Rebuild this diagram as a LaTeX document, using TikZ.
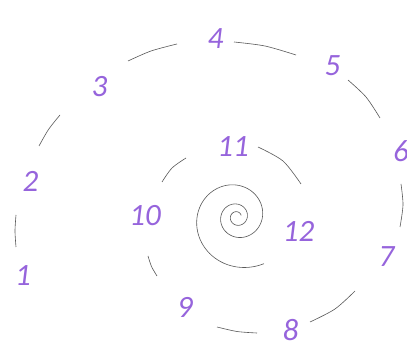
\documentclass[tikz,border=0pt]{standalone}
\usepackage{fontspec}
\setmainfont{Carlito}

\definecolor{numcol}{RGB}{150,100,220}

\tikzset{
  num/.style={text=numcol, font=\fontsize{31}{36}\selectfont\itshape, inner sep=0pt},
  arcline/.style={draw=black!65, line width=0.6pt}
}

\begin{document}
\begin{tikzpicture}[x=1pt,y=-1pt]

\useasboundingbox[fill=white] (0,0) rectangle (407,344);

% -----------------------
% Tour exterieur
% -----------------------
\draw[arcline] plot[smooth] coordinates {(16,215) (15,231) (16,247)};
\draw[arcline] plot[smooth] coordinates {(39,146) (48.5,129.5) (60,115)};
\draw[arcline] plot[smooth] coordinates {(128,61) (151,51) (177,44)};
\draw[arcline] plot[smooth] coordinates {(234,42) (265,46) (296,55)};
\draw[arcline] plot[smooth] coordinates {(348,80) (366,97) (380,118)};
\draw[arcline] plot[smooth] coordinates {(401,184) (403,205) (400,227)};
\draw[arcline] plot[smooth] coordinates {(355,291) (335,309) (310,322)};
\draw[arcline] plot[smooth] coordinates {(257,333) (237,331.5) (217,327)};

% -----------------------
% Tour interieur
% -----------------------
\draw[arcline] plot[smooth] coordinates {(157,276) (151.5,266.5) (148,256)};
\draw[arcline] plot[smooth] coordinates {(162,182) (172,168) (186,158)};
\draw[arcline] plot[smooth] coordinates {(258,147) (283,161) (301,184)};

% -----------------------
% Spirale centrale
% -----------------------
\draw[arcline, shift={(237,217)}]
  plot[domain=60:1060, samples=240, smooth] (\x:{50*exp(-0.0025*(\x-90))});

% -----------------------
% Numeros
% -----------------------
\node[num] (n1)  at (23,276)    {1};
\node[num] (n2)  at (30.5,181)  {2};
\node[num] (n3)  at (99.5,87)   {3};
\node[num] (n4)  at (215.5,39)  {4};
\node[num] (n5)  at (332.5,66)  {5};
\node[num] (n6)  at (401,151.5) {6};
\node[num] (n7)  at (386.5,257) {7};
\node[num] (n8)  at (290.5,330) {8};
\node[num] (n9)  at (185,307)   {9};
\node[num] (n10) at (145,216)   {10};
\node[num] (n11) at (233,147)   {11};
\node[num] (n12) at (298.5,231) {12};

\end{tikzpicture}
\end{document}
